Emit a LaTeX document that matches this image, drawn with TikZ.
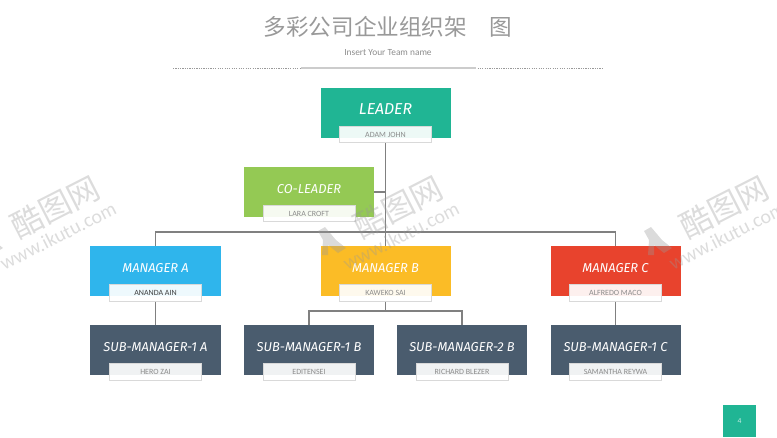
\documentclass[tikz,border=0pt]{standalone}
\usepackage{fontspec}
\setmainfont{Carlito}
\newfontfamily\cjkfont{Noto Sans CJK SC}
\newfontfamily\headfont{Fira Sans}
\definecolor{leadgreen}{HTML}{20B594}
\definecolor{cogreen}{HTML}{94C954}
\definecolor{mblue}{HTML}{2FB5EC}
\definecolor{myellow}{HTML}{FBBC26}
\definecolor{mred}{HTML}{E8432D}
\definecolor{subslate}{HTML}{4A5C6E}
\tikzset{
	headbox/.style={minimum width=3.9cm,minimum height=1.5cm,inner sep=0pt,text=white,font=\headfont\itshape\fontsize{11}{13}\selectfont},
	namebox/.style={minimum width=2.76cm,minimum height=.5cm,inner sep=0pt,fill=white,fill opacity=.92,text opacity=1,draw=black!15,line width=.6pt,text=black!45,font=\fontsize{6.8}{8}\selectfont},
	conn/.style={draw=black!50,line width=.9pt},
	wmark/.style={text=black!40,opacity=.34,rotate=27,inner sep=0pt},
}
\begin{document}
\begin{tikzpicture}[x=.03cm,y=-.03cm]
	\useasboundingbox (0,0) rectangle (777,437);
	% title
	\node (title) at (388,27)[text=black!40,font=\cjkfont\fontsize{19.3}{22}\selectfont]{多彩公司企业组织架\hspace{1em}图};
	\node (team) at (388,53)[text=black!45,font=\fontsize{8}{9}\selectfont]{Insert Your Team name};
	\coordinate (ruleL) at (173,68);
	\coordinate (ruleR) at (603,68);
	\coordinate (thickL) at (301,68);
	\coordinate (thickR) at (476,68);
	\draw[black!40,dash pattern=on 1pt off 1pt,line width=.3pt] (ruleL)--(ruleR);
	\draw[black!20,line width=1.6pt] (thickL)--(thickR);
	% boxes
	\node (leader) at (385.5,112.5)[headbox,fill=leadgreen,font=\headfont\itshape\fontsize{13.5}{15}\selectfont]{\raisebox{6pt}{LEADER}};
	\node (coleader) at (309,192)[headbox,fill=cogreen]{\raisebox{6pt}{CO-LEADER}};
	\node (mana) at (155.5,271)[headbox,fill=mblue]{\raisebox{6pt}{MANAGER A}};
	\node (manb) at (385.5,271)[headbox,fill=myellow]{\raisebox{6pt}{MANAGER B}};
	\node (manc) at (615.5,271)[headbox,fill=mred]{\raisebox{6pt}{MANAGER C}};
	\node (suba) at (155.5,350)[headbox,fill=subslate]{\raisebox{6pt}{SUB-MANAGER-1 A}};
	\node (subb) at (309,350)[headbox,fill=subslate]{\raisebox{6pt}{SUB-MANAGER-1 B}};
	\node (subd) at (462,350)[headbox,fill=subslate]{\raisebox{6pt}{SUB-MANAGER-2 B}};
	\node (subc) at (615.5,350)[headbox,fill=subslate]{\raisebox{6pt}{SUB-MANAGER-1 C}};
	% name tags
	\node (adam) at (385.5,134.5)[namebox]{ADAM JOHN};
	\node (lara) at (309,213.5)[namebox]{LARA CROFT};
	\node (ananda) at (155.5,293)[namebox,text=black!75]{ANANDA AIN};
	\node (kaweko) at (385.5,293)[namebox]{KAWEKO SAI};
	\node (alfredo) at (615.5,293)[namebox]{ALFREDO MACO};
	\node (hero) at (155.5,372)[namebox]{HERO ZAI};
	\node (edit) at (309,372)[namebox]{EDITENSEI};
	\node (richard) at (462,372)[namebox]{RICHARD BLEZER};
	\node (samantha) at (615.5,372)[namebox]{SAMANTHA REYWA};
	% connectors
	\coordinate (bus) at (385.5,232);
	\coordinate (busb) at (385.5,311);
	\draw[conn] (adam.south)--(kaweko.north |- manb.north);
	\draw[conn] (coleader.east)--(coleader.east -| adam.south);
	\draw[conn] (mana.north)--(mana.north |- bus)--(manc.north |- bus)--(manc.north);
	\draw[conn] (kaweko.south)--(busb);
	\draw[conn] (subb.north)--(subb.north |- busb)--(subd.north |- busb)--(subd.north);
	\draw[conn] (ananda.south)--(suba.north);
	\draw[conn] (alfredo.south)--(subc.north);
	% page number
	\node (pagebox) at (739.5,421)[fill=leadgreen,minimum width=.99cm,minimum height=.96cm,inner sep=0pt,text=white!75!leadgreen,font=\fontsize{6.5}{8}\selectfont]{4};
	% watermark
	\foreach \wname/\wx in {a/55,b/398,c/724}{
		\node (logo\wname) at (\wx,207)[wmark,font=\cjkfont\fontsize{27}{30}\selectfont]{酷图网};
		\node (www\wname) at (\wx+3,236)[wmark,font=\fontsize{17}{19}\selectfont]{www.ikutu.com};
		\fill[black!40,opacity=.35] (\wx-80,231)--(\wx-73,227)--(\wx-62,240)--(\wx-52,248)--(\wx-60,253)--(\wx-70,245)--(\wx-70,255)--(\wx-76,255)--(\wx-75,240)--cycle;
	}
\end{tikzpicture}
\end{document}
